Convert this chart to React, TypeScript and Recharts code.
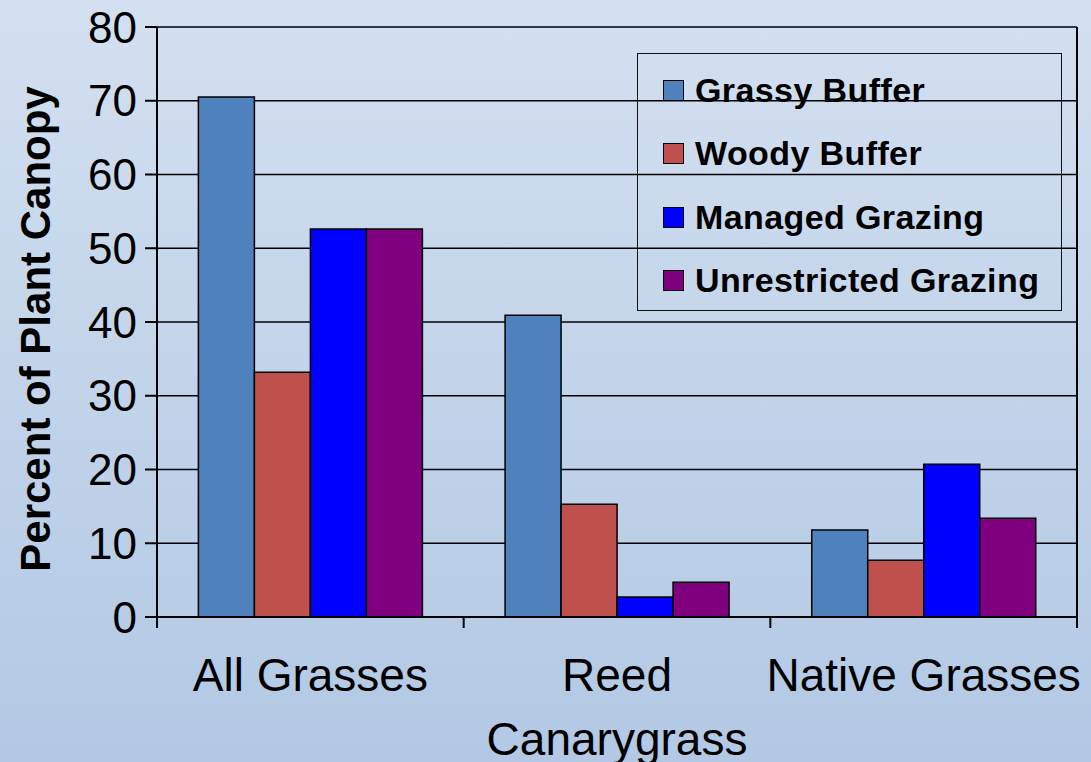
import {
  BarChart,
  Bar,
  XAxis,
  YAxis,
  CartesianGrid,
  Legend,
} from "recharts";

const categories = ["All Grasses", "Reed Canarygrass", "Native Grasses"];
const tickLines: Record<string, string[]> = {
  "All Grasses": ["All Grasses"],
  "Reed Canarygrass": ["Reed", "Canarygrass"],
  "Native Grasses": ["Native Grasses"],
};

const grassyBuffer = [70.5, 40.9, 11.8];
const woodyBuffer = [33.2, 15.3, 7.7];
const managedGrazing = [52.6, 2.7, 20.7];
const unrestrictedGrazing = [52.6, 4.7, 13.4];

const yTicks = [0, 10, 20, 30, 40, 50, 60, 70, 80];

const series = [
  { key: "grassy", name: "Grassy Buffer", color: "#4f81bd", values: grassyBuffer },
  { key: "woody", name: "Woody Buffer", color: "#c0504d", values: woodyBuffer },
  { key: "managed", name: "Managed Grazing", color: "#0000ff", values: managedGrazing },
  { key: "unrestricted", name: "Unrestricted Grazing", color: "#800080", values: unrestrictedGrazing },
];

const data = categories.map((c, i) => {
  const row: any = { category: c };
  series.forEach((s) => (row[s.key] = s.values[i]));
  return row;
});

const FONT = '"Liberation Sans", Arial, sans-serif';

// label lines plus tick marks on the category edges (half a band either side)
function CategoryTick(props: any) {
  const { x, y, payload, index } = props;
  const lines = tickLines[payload.value] || [payload.value];
  const half = payload.offset || 0;
  const edges = index === categories.length - 1 ? [x - half, x + half] : [x - half];
  return (
    <g>
      {edges.map((ex, i) => (
        <line key={"t" + i} x1={ex} x2={ex} y1={y} y2={y + 11} stroke="#000" strokeWidth={2} />
      ))}
      {lines.map((line, i) => (
        <text
          key={i}
          x={x}
          y={y + 74 + i * 64}
          textAnchor="middle"
          fontSize={46}
          fontFamily={FONT}
          fill="#000"
        >
          {line}
        </text>
      ))}
    </g>
  );
}

function LegendBox() {
  return (
    <div
      style={{
        width: 425,
        height: 258,
        boxSizing: "border-box",
        border: "1.5px solid #111",
        position: "relative",
        fontFamily: FONT,
      }}
    >
      {series.map((s, i) => (
        <div
          key={s.key}
          style={{
            position: "absolute",
            left: 25,
            top: 36 + i * 63.5 - 20,
            height: 40,
            display: "flex",
            alignItems: "center",
            whiteSpace: "nowrap",
          }}
        >
          <div
            style={{
              width: 21,
              height: 21,
              boxSizing: "border-box",
              background: s.color,
              border: "1.5px solid #000",
              marginRight: 11,
            }}
          />
          <span
            style={{
              fontSize: 34,
              fontWeight: "bold",
              letterSpacing: 0.4,
              color: "#000",
            }}
          >
            {s.name}
          </span>
        </div>
      ))}
    </div>
  );
}

export default function App() {
  return (
    <div
      style={{
        position: "absolute",
        left: 0,
        top: 0,
        width: 1091,
        height: 762,
        overflow: "hidden",
        background: "linear-gradient(to bottom, #d3e0f0 0%, #b2c8e4 100%)",
      }}
    >
      <BarChart
        width={1091}
        height={762}
        data={data}
        margin={{ top: 27, right: 13, left: 0, bottom: 0 }}
        barCategoryGap="13.5%"
        barGap={0}
      >
        <CartesianGrid vertical={false} stroke="#000" strokeWidth={1.5} />
        <XAxis
          dataKey="category"
          tick={<CategoryTick />}
          tickLine={false}
          tickSize={0}
          tickMargin={0}
          axisLine={{ stroke: "#000", strokeWidth: 2 }}
          height={145}
          interval={0}
        />
        <YAxis
          domain={[0, 80]}
          ticks={yTicks}
          width={157}
          tickSize={12}
          tickMargin={8}
          tick={{ fontSize: 44, fill: "#000", fontFamily: FONT }}
          tickLine={{ stroke: "#000", strokeWidth: 2 }}
          axisLine={{ stroke: "#000", strokeWidth: 2 }}
          label={{
            content: (p: any) => {
              const vb = p.viewBox;
              const cx = vb.x + 35;
              const cy = vb.y + vb.height / 2 + 7;
              return (
                <text
                  x={cx}
                  y={cy}
                  transform={`rotate(-90, ${cx}, ${cy})`}
                  textAnchor="middle"
                  dominantBaseline="central"
                  fontSize={42}
                  fontWeight="bold"
                  fontFamily={FONT}
                  fill="#000"
                >
                  Percent of Plant Canopy
                </text>
              );
            },
          }}
        />
        <YAxis
          yAxisId="right"
          orientation="right"
          domain={[0, 80]}
          width={1}
          tick={false}
          tickLine={false}
          axisLine={{ stroke: "#000", strokeWidth: 2 }}
        />
        <Legend
          layout="vertical"
          align="center"
          verticalAlign="middle"
          content={() => <LegendBox />}
          wrapperStyle={{ left: 637, top: 53, width: 425, height: 258 }}
        />
        {series.map((s) => (
          <Bar
            key={s.key}
            dataKey={s.key}
            name={s.name}
            fill={s.color}
            stroke="#000"
            strokeWidth={1.5}
            isAnimationActive={false}
          />
        ))}
      </BarChart>
    </div>
  );
}
